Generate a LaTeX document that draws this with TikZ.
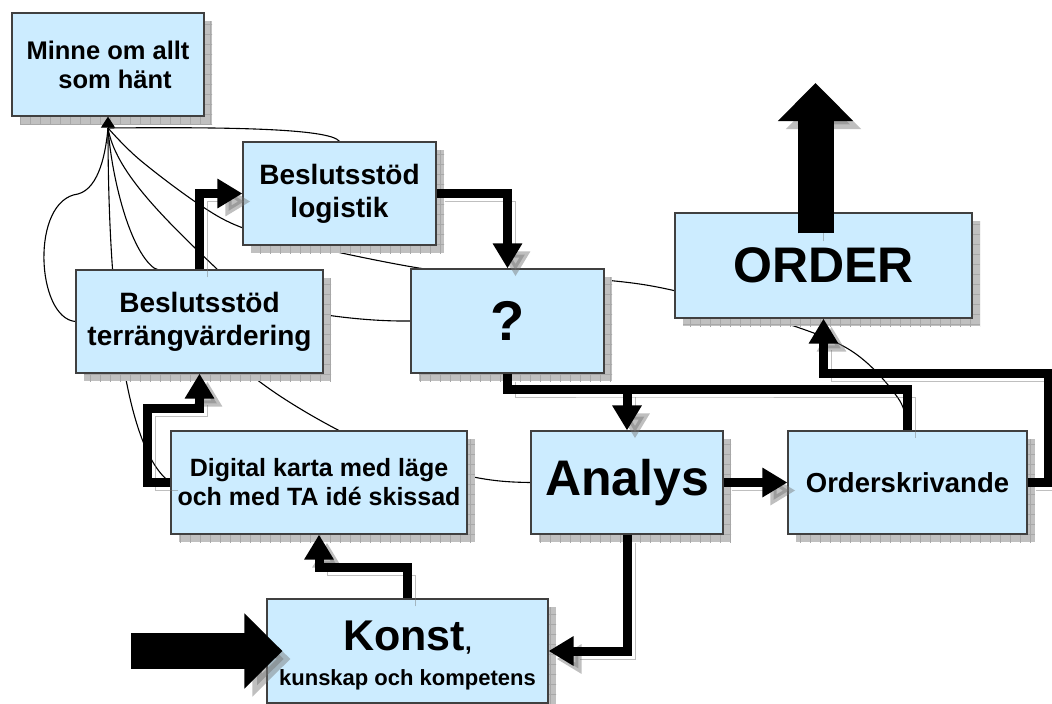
\documentclass[tikz,border=0pt]{standalone}
\usepackage{fontspec}
\setmainfont{Liberation Sans}
\usetikzlibrary{arrows.meta,shadows,patterns.meta}

\definecolor{boxblue}{RGB}{204,236,255}
\definecolor{shadegray}{RGB}{192,192,192}
\definecolor{gridgray}{RGB}{168,168,168}

\pgfdeclarelayer{bg}
\pgfsetlayers{bg,main}

\begin{document}
\begin{tikzpicture}[x=1pt,y=-1pt,
    box/.style={draw=black!75, line width=1.2pt, fill=boxblue, align=center, inner sep=0pt,
      drop shadow={shadow xshift=8pt, shadow yshift=-8pt, fill=shadegray, opacity=1,
        postaction={pattern={Hatch[angle=0,distance=10pt,line width=.6pt]}, pattern color=gridgray}}},
    link/.style={line width=1.1pt},
    flowline/.style={line width=9pt,
      preaction={draw=black!55, opacity=.45, transform canvas={shift={(8pt,-8pt)}}}},
    flow/.style={flowline, -{Triangle[length=25pt,width=28pt]}},
    bigflow/.style={line width=36pt, -{Triangle[length=38pt,width=73pt]},
      preaction={draw=black!55, opacity=.45, transform canvas={shift={(8pt,-8pt)}}}}]
  \begin{pgfonlayer}{bg}
    \fill[white] (0,0) rectangle (1052,704);
  \end{pgfonlayer}
  \useasboundingbox (0,0) rectangle (1052,704);

  % boxes
  \node[box, minimum width=192, minimum height=103, font=\bfseries\fontsize{25.5}{29}\selectfont] (mi) at (108,64.5) {Minne om allt\\ \hspace*{14pt}som hänt};
  \node[box, minimum width=193, minimum height=103, font=\bfseries\fontsize{28}{33}\selectfont] (lo) at (339.5,193.5) {Beslutsstöd\\logistik};
  \node[box, minimum width=247, minimum height=103, font=\bfseries\fontsize{28}{33}\selectfont] (te) at (199.5,321.5) {Beslutsstöd\\terrängvärdering};
  \node[box, minimum width=193, minimum height=104, font=\bfseries\fontsize{56}{60}\selectfont] (q) at (507.5,321) {?};
  \node[box, minimum width=297, minimum height=105, font=\bfseries\fontsize{50}{56}\selectfont] (or) at (823.5,265.5) {ORDER};
  \node[box, minimum width=296, minimum height=103, font=\bfseries\fontsize{25}{29}\selectfont] (di) at (319,482.5) {Digital karta med läge\\och med TA idé skissad};
  \node[box, minimum width=192, minimum height=103, font=\bfseries\fontsize{50}{56}\selectfont] (an) at (627,482.5) {Analys};
  \node[box, minimum width=239, minimum height=103, font=\bfseries\fontsize{27.5}{33}\selectfont] (os) at (907.5,482.5) {Orderskrivande};
  \node[box, minimum width=281, minimum height=104, align=none, font=\bfseries\fontsize{22}{26}\selectfont] (ko) at (407.5,651)
    {\raisebox{-6pt}[\height][\depth]{\begin{tabular}{@{}c@{}}{\fontsize{43}{46}\selectfont Konst}{\fontsize{24}{26}\selectfont ,}\\[9pt]kunskap och kompetens\end{tabular}}};

  % thin links to the memory box
  \coordinate (hub) at (108,128);
  \begin{pgfonlayer}{bg}
    \draw[link] (lo.north) .. controls (330,128) and (220,127) .. (hub);
    \draw[link] (te.west) .. controls (36,318) and (30,200) .. (78,194) .. controls (100,188) and (106,150) .. (hub);
    \draw[link] (di.west) .. controls (125,450) and (108,300) .. (hub);
    \draw[link] (q.west) .. controls (330,322) and (230,300) .. (154,268) .. controls (130,250) and (112,180) .. (hub);
    \draw[link] (an.west) .. controls (490,482) and (470,478) .. (400,458) .. controls (350,440) and (270,395) .. (240,365) .. controls (230,320) and (225,290) .. (218,270) .. controls (160,215) and (115,170) .. (hub);
    \draw[link] plot[smooth, tension=.6] coordinates {(os.north) (898,398) (850,350) (770,318) (676,291) (604,280) (510,276) (425,269) (305,245) (243,228) (200,205) (140,160) (hub)};
  \end{pgfonlayer}
  \draw[line width=1pt, -{Triangle[length=11pt,width=14pt]}] (hub) -- (mi.south);

  % thick flows
  \coordinate (j) at (627,389);
  \draw[flow] (te.north) |- (lo.west);
  \draw[flow] (lo.east) -| (q.north);
  \draw[flowline] (q.south) |- (j) -| (os.north);
  \draw[flow] (j) -- (an.north);
  \draw[flow] (an.east) -- (os.west);
  \draw[flow] (os.east) -| (1048,373) -| (or.south);
  \draw[flow] (di.west) -| (147,408) -| (te.south);
  \draw[flow] (ko.north) |- (319,567) -- (di.south);
  \draw[flow] (an.south) |- (ko.east);

  % big in and out arrows
  \coordinate (inp) at (131,651);
  \coordinate (out) at (815.5,83);
  \draw[bigflow] (inp) -- ([xshift=16pt]ko.west);
  \draw[bigflow] ([shift={(-8,21)}]or.north) -- (out);
\end{tikzpicture}
\end{document}
